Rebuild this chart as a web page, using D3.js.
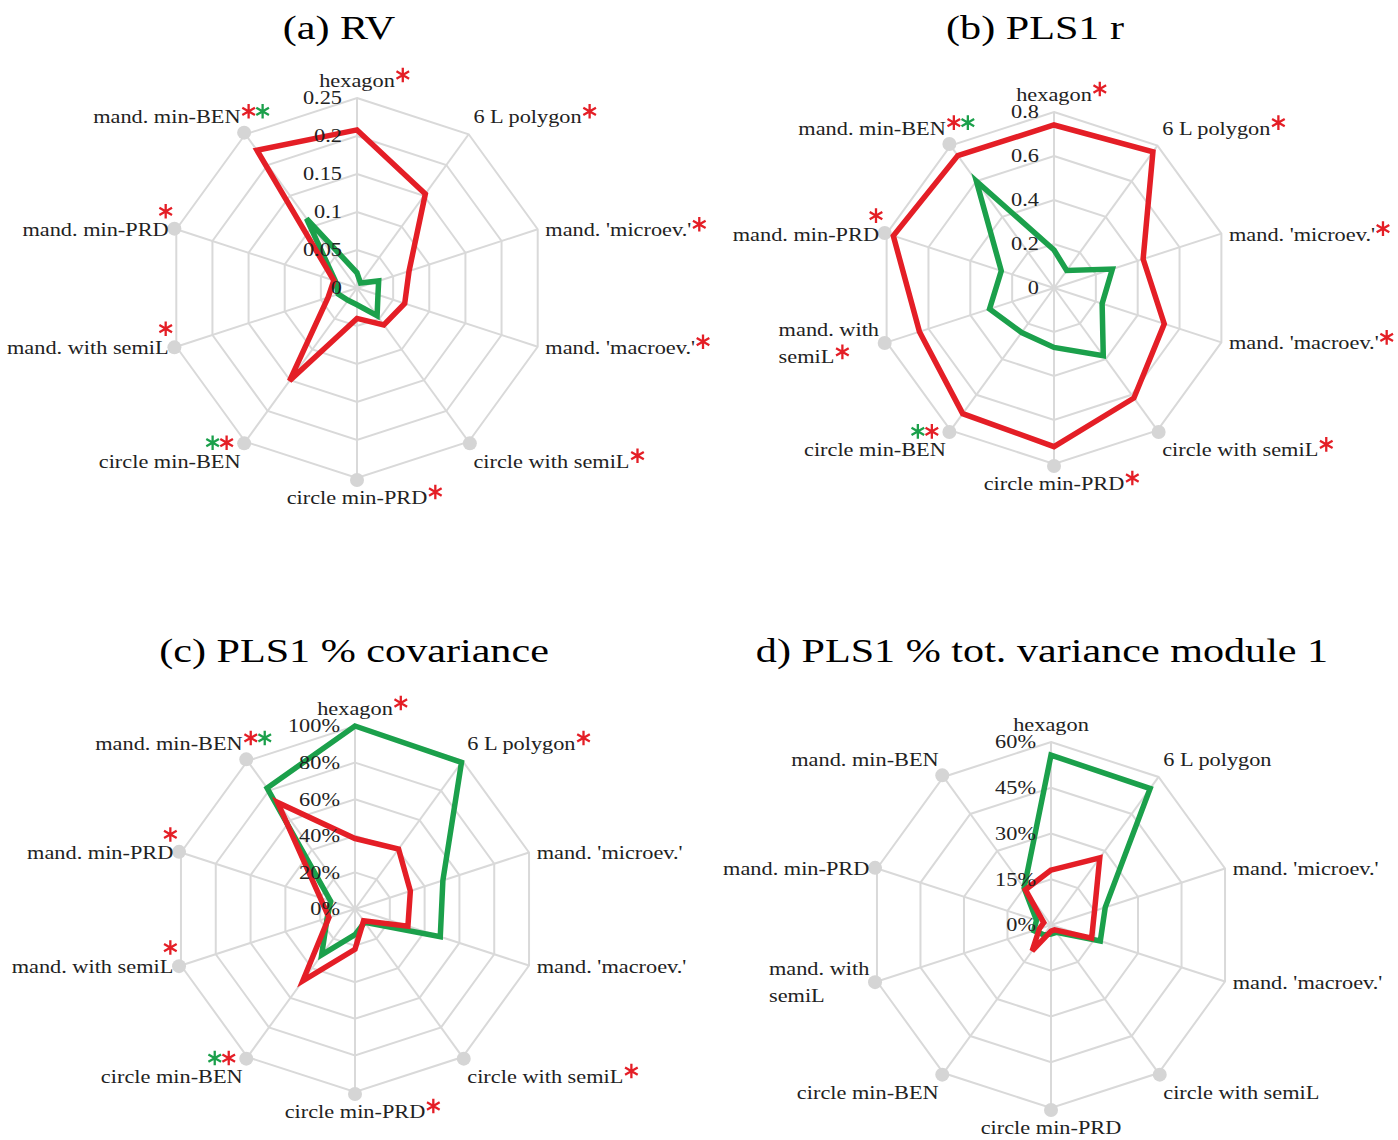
<!DOCTYPE html>
<html><head><meta charset="utf-8">
<script src="https://cdn.jsdelivr.net/npm/d3@7"></script>
<style>body{margin:0;background:#fff}</style>
</head><body>
<svg id="chart" width="1398" height="1140"></svg>
<script>
// ---------- data ----------
const categories = ["hexagon","6 L polygon","mand. 'microev.'","mand. 'macroev.'","circle with semiL",
  "circle min-PRD","circle min-BEN","mand. with semiL","mand. min-PRD","mand. min-BEN"];

// (a) RV
const rvRed   = [0.208,0.153,0.072,0.066,0.060,0.040,0.151,0.040,0.032,0.224];
const rvGreen = [0.020,0.008,0.030,0.029,0.045,0.022,0.020,0.026,0.030,0.113];
const ticksA = [0,0.05,0.1,0.15,0.2,0.25];
const tickLabelsA = ["0","0.05","0.1","0.15","0.2","0.25"];
const sigA = [["r"],["r"],["r"],["r"],["r"],["r"],["g","r"],["r"],["r"],["r","g"]];

// (b) PLS1 r
const rRed   = [0.741,0.765,0.426,0.527,0.618,0.721,0.706,0.643,0.768,0.744];
const rGreen = [0.173,0.098,0.279,0.230,0.381,0.270,0.250,0.308,0.252,0.600];
const ticksB = [0,0.2,0.4,0.6,0.8];
const tickLabelsB = ["0","0.2","0.4","0.6","0.8"];
const sigB = [["r"],["r"],["r"],["r"],["r"],["r"],["g","r"],["r"],["r"],["r","g"]];

// (c) PLS1 % covariance
const covRed   = [38.5,40.5,31.8,30.4,8,22,48.5,15,20,72];
const covGreen = [100,99,50.5,49,9,14,31,16,14,81.7];
const ticksC = [0,20,40,60,80,100];
const tickLabelsC = ["0%","20%","40%","60%","80%","100%"];
const sigC = [["r"],["r"],[],[],["r"],["r"],["g","r"],["r"],["r"],["r","g"]];

// (d) PLS1 % tot. variance module 1
const varRed   = [18,27.2,15,14,2,2,10.5,4,2.5,14.3];
const varGreen = [55.7,55.3,18.7,17,3,3,4,5.9,5,15];
const ticksD = [0,15,30,45,60];
const tickLabelsD = ["0%","15%","30%","45%","60%"];
const sigD = [[],[],[],[],[],[],[],[],[],[]];

const titles = ["(a) RV","(b) PLS1 r","(c) PLS1 % covariance","d) PLS1 % tot. variance module 1"];
const dotAxes = [false,false,false,false,true,true,true,true,true,true];

// ---------- layout / style ----------
const RED = "#e41e26", GREEN = "#1ba04b", GRID = "#d9d9d9", DOT = "#d5d5d5", TXT = "#222";
const SX = 1.24;
const FONT = "'Liberation Serif','Times New Roman',serif";

const panels = [
  {title:titles[0], tx:339, ty:39, cx:357, cy:288, R:190, ticks:ticksA, tl:tickLabelsA, red:rvRed, green:rvGreen, sig:sigA, wrap:false},
  {title:titles[1], tx:1035, ty:39, cx:1054, cy:288, R:176, ticks:ticksB, tl:tickLabelsB, red:rRed, green:rGreen, sig:sigB, wrap:true},
  {title:titles[2], tx:354, ty:662, cx:355, cy:909, R:183, ticks:ticksC, tl:tickLabelsC, red:covRed, green:covGreen, sig:sigC, wrap:false},
  {title:titles[3], tx:1042, ty:662, cx:1051, cy:925, R:183, ticks:ticksD, tl:tickLabelsD, red:varRed, green:varGreen, sig:sigD, wrap:true}
];

const svg = d3.select("#chart");
const n = categories.length;
const angle = d3.scaleLinear().domain([0, n]).range([0, 2*Math.PI]);
const star = d3.symbol().type(d3.symbolAsterisk).size(150);

function placeText(parent, x, y, anchor, size, fill) {
  const g = parent.append("g").attr("transform", `translate(${x},${y}) scale(${SX},1)`);
  return g.append("text").attr("text-anchor", anchor).attr("font-family", FONT)
    .attr("font-size", size).attr("fill", fill);
}
// significance markers (asterisks) drawn as symbols; x0 = centre of first, step between them
function addStars(parent, x0, y, keys) {
  keys.forEach((k, j) => {
    parent.append("path").attr("d", star())
      .attr("transform", `translate(${x0 + j * 14},${y})`)
      .attr("fill", "none").attr("stroke", k === "r" ? RED : GREEN)
      .attr("stroke-width", 2.3);
  });
}

panels.forEach(p => {
  const g = svg.append("g");
  const r = d3.scaleLinear().domain([0, d3.max(p.ticks)]).range([0, p.R]);
  const c = g.append("g").attr("transform", `translate(${p.cx},${p.cy})`);
  const idx = d3.range(n);

  // grid rings
  const ring = d3.lineRadial().angle(i => angle(i)).curve(d3.curveLinearClosed);
  p.ticks.filter(t => t > 0).forEach(t => {
    c.append("path").attr("d", ring.radius(r(t))(idx))
      .attr("fill", "none").attr("stroke", GRID).attr("stroke-width", 2);
  });
  // spokes
  c.selectAll(".spoke").data(idx).join("line")
    .attr("x1", 0).attr("y1", 0)
    .attr("x2", i => p.R * Math.sin(angle(i)))
    .attr("y2", i => -p.R * Math.cos(angle(i)))
    .attr("stroke", GRID).attr("stroke-width", 2);
  // dots
  c.selectAll(".dot").data(idx.filter(i => dotAxes[i])).join("circle")
    .attr("cx", i => (p.R + 2) * Math.sin(angle(i)))
    .attr("cy", i => -(p.R + 2) * Math.cos(angle(i)))
    .attr("r", 7).attr("fill", DOT);

  // tick labels
  p.ticks.forEach((t, k) => {
    placeText(g, p.cx - 15, p.cy - r(t), "end", 18, TXT).attr("dy", "0.35em").text(p.tl[k]);
  });

  // series
  const line = d3.lineRadial().angle((d, i) => angle(i)).radius(d => r(d)).curve(d3.curveLinearClosed);
  c.append("path").attr("d", line(p.green)).attr("fill", "none").attr("stroke", GREEN)
    .attr("stroke-width", 5.5).attr("stroke-linejoin", "miter");
  c.append("path").attr("d", line(p.red)).attr("fill", "none").attr("stroke", RED)
    .attr("stroke-width", 5.5).attr("stroke-linejoin", "miter");

  // category labels
  categories.forEach((cat, i) => {
    const a = angle(i), s = Math.sin(a), co = Math.cos(a);
    const ex = p.cx + p.R * s, ey = p.cy - p.R * co;
    const anchor = Math.abs(s) < 0.1 ? "middle" : (s > 0 ? "start" : "end");
    const x = ex + s * 8;
    const base = co > 0.5 ? ey - 11 : (co < -0.5 ? ey + 26 : ey + 7);
    const keys = p.sig[i];
    const deg = a * 180 / Math.PI;
    if (p.wrap && cat === "mand. with semiL") {
      const lines = ["mand. with", "semiL"];
      const tmp = placeText(g, 0, 0, "start", 18, TXT);
      const widths = lines.map(l => { tmp.text(l); return tmp.node().getComputedTextLength(); });
      tmp.node().parentNode.remove();
      const w = d3.max(widths);
      const left = x - w * SX;
      const b0 = base - 13.5;
      lines.forEach((l, k) => placeText(g, left, b0 + 27 * k, "start", 18, TXT).text(l));
      addStars(g, left + widths[1] * SX + 8, b0 + 27 - 11, keys);
      return;
    }
    const t = placeText(g, x, base, anchor, 18, TXT).text(cat);
    const len = t.node().getComputedTextLength() * SX;
    const endX = anchor === "start" ? x + len : (anchor === "middle" ? x + len / 2 : x);
    if (anchor === "end" && deg > 180 && deg < 320) {
      const last = endX + (keys.length > 1 ? -14 : -3);
      addStars(g, last - 14 * (keys.length - 1), base - 25, keys);
    } else {
      addStars(g, endX + 8, base - 12, keys);
    }
  });

  // title
  placeText(g, p.tx, p.ty, "middle", 34, "#000").text(p.title);
});
</script>
</body></html>
